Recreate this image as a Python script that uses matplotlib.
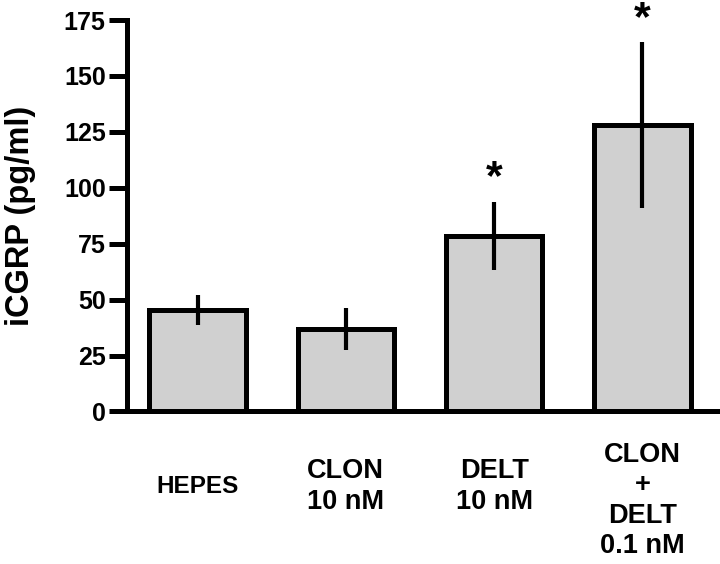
import matplotlib
matplotlib.use("Agg")
import matplotlib.pyplot as plt
import matplotlib.transforms as mtransforms
import numpy as np

# Data
groups = ["HEPES", "CLON\n10 nM", "DELT\n10 nM", "CLON\n+\nDELT\n0.1 nM"]
means = [45.5, 37.0, 78.5, 128.0]
sems = [6.7, 9.3, 15.2, 37.0]
significant = [False, False, True, True]
yticks = [0, 25, 50, 75, 100, 125, 150, 175]

plt.rcParams['font.family'] = ['Liberation Sans', 'DejaVu Sans']
plt.rcParams['font.weight'] = 'bold'

fig = plt.figure(figsize=(7.2, 5.64), dpi=100)
ax = fig.add_axes([0.1757, 0.2704, 0.8243, 0.6941])

x = np.arange(len(groups))
ax.bar(x, means, width=0.65, color='#d0d0d0', edgecolor='black',
       linewidth=3.6, zorder=2)
ax.errorbar(x, means, yerr=sems, fmt='none', ecolor='black',
            elinewidth=3.0, capsize=0, zorder=3)

# significance stars
for xi, m, s, sig in zip(x, means, sems, significant):
    if sig:
        ax.annotate('*', xy=(xi, m + s), xytext=(0, 17),
                    textcoords='offset points', ha='center', va='center',
                    fontsize=31, fontweight='bold', annotation_clip=False)

ax.set_xlim(-0.479, 3.523)
ax.set_ylim(0, 175)
ax.set_yticks(yticks)
ax.set_yticklabels([str(t) for t in yticks], fontsize=18, fontweight='bold')
ax.set_xticks(x)
ax.set_xticklabels(groups, fontsize=19.5, fontweight='bold',
                   va='center', linespacing=1.22)
ax.tick_params(axis='x', length=0, pad=54)
ax.tick_params(axis='y', length=13, width=3.6, pad=2)

labels = ax.get_xticklabels()
labels[0].set_fontsize(17.5)
# the four-line label sits a bit lower
shift = mtransforms.ScaledTranslation(0, -14 / 100, fig.dpi_scale_trans)
labels[3].set_transform(labels[3].get_transform() + shift)

ax.set_ylabel("iCGRP (pg/ml)", fontsize=23.5, fontweight='bold', labelpad=20)

for side in ['top', 'right']:
    ax.spines[side].set_visible(False)
for side in ['left', 'bottom']:
    ax.spines[side].set_linewidth(3.6)

fig.savefig("out.png", dpi=100)
